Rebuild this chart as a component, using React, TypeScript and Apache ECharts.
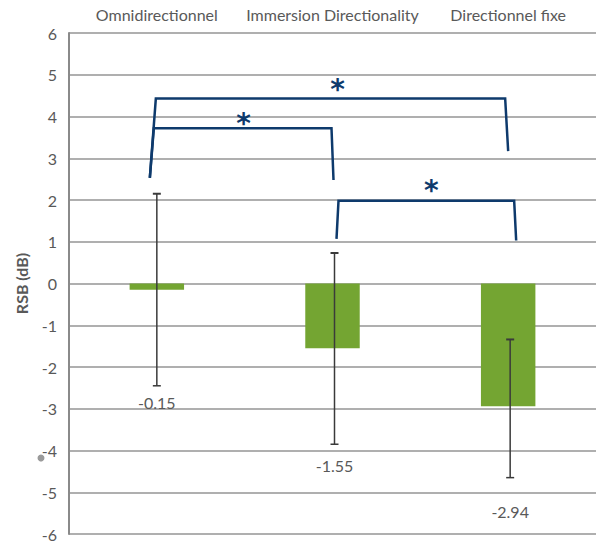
import React, { useEffect, useRef } from "react";
import * as echarts from "echarts";

const categories = ["Omnidirectionnel", "Immersion Directionality", "Directionnel fixe"];
const means = [-0.15, -1.55, -2.94];
const errLow = [-2.45, -3.85, -4.65];
const errHigh = [2.15, 0.73, -1.34];
const meanLabels = ["-0.15", "-1.55", "-2.94"];

// significance brackets: [fromCategory, toCategory]
const bracketPairs = [
  [0, 2],
  [0, 1],
  [1, 2],
];
const bracketTop = [4.43, 3.72, 1.98];
const bracketLeftEnd = [2.53, 2.53, 1.07];
const bracketRightEnd = [3.17, 2.48, 1.03];
const bracketMark = ["*", "*", "*"];

// style constants (pixel offsets)
const bracketDx = [
  [-7, -1, -3, 0],
  [-7, -3, -1, 1],
  [4, 6, 6, 8],
];
const starDx = [7, 1, 5];
const starDy = [-16, -12, -17];
const labelDy = [17, 21, 34];
const errDx = [0, 2, 2];

const GREY = "#595959";
const NAVY = "#0e3a6c";
const FONT = "Lato, 'Open Sans', sans-serif";

export default function App() {
  const ref = useRef<HTMLDivElement>(null);
  useEffect(() => {
    if (!ref.current) return;
    const chart = echarts.init(ref.current, undefined, { renderer: "svg" });
    const option: any = {
      animation: false,
      textStyle: { fontFamily: FONT },
      grid: { left: 69, right: 2, top: 33, bottom: 5, containLabel: false },
      xAxis: {
        type: "category",
        data: categories,
        position: "top",
        axisLine: { show: false },
        axisTick: { show: false },
        axisLabel: { color: GREY, fontSize: 16, margin: 11, fontFamily: FONT, interval: 0 },
        splitLine: { show: false },
      },
      yAxis: {
        type: "value",
        min: -6,
        max: 6,
        interval: 1,
        name: "RSB (dB)",
        nameLocation: "middle",
        nameGap: 40,
        nameTextStyle: { color: GREY, fontSize: 16, fontWeight: "bold", fontFamily: FONT },
        axisLine: { show: true, lineStyle: { color: "#8a8a8a", width: 2 } },
        axisTick: { show: false },
        axisLabel: { color: GREY, fontSize: 16, margin: 12, fontFamily: FONT },
        splitLine: { show: true, lineStyle: { color: "#959595", width: 1.5 } },
      },
      series: [
        {
          type: "bar",
          data: means,
          barWidth: "31%",
          itemStyle: { color: "#74a532" },
          z: 2,
        },
        {
          type: "custom",
          z: 5,
          data: categories.map((_, i) => [i, errLow[i], errHigh[i]]),
          renderItem: (params: any, api: any) => {
            const i = api.value(0);
            const lo = api.coord([i, api.value(1)]);
            const hi = api.coord([i, api.value(2)]);
            const x = lo[0] + errDx[params.dataIndex];
            const cap = 4;
            const st = { stroke: "#3a3a3a", lineWidth: 1.5 };
            return {
              type: "group",
              children: [
                { type: "line", shape: { x1: x, y1: lo[1], x2: x, y2: hi[1] }, style: st },
                { type: "line", shape: { x1: x - cap, y1: lo[1], x2: x + cap, y2: lo[1] }, style: st },
                { type: "line", shape: { x1: x - cap, y1: hi[1], x2: x + cap, y2: hi[1] }, style: { stroke: "#3a3a3a", lineWidth: 2 } },
                {
                  type: "text",
                  style: {
                    text: meanLabels[params.dataIndex],
                    x: x,
                    y: lo[1] + labelDy[params.dataIndex],
                    textAlign: "center",
                    textVerticalAlign: "middle",
                    fill: GREY,
                    fontSize: 16,
                    fontFamily: FONT,
                  },
                },
              ],
            };
          },
        },
        {
          type: "custom",
          z: 6,
          data: bracketPairs.map((p, k) => [p[0], p[1], bracketTop[k], bracketLeftEnd[k], bracketRightEnd[k]]),
          renderItem: (params: any, api: any) => {
            const k = params.dataIndex;
            const a = api.value(0);
            const b = api.value(1);
            const top = api.coord([a, api.value(2)])[1];
            const lb = api.coord([a, api.value(3)]);
            const rb = api.coord([b, api.value(4)]);
            const d = bracketDx[k];
            const pts = [
              [lb[0] + d[0], lb[1]],
              [lb[0] + d[1], top],
              [rb[0] + d[2], top],
              [rb[0] + d[3], rb[1]],
            ];
            const mid = (lb[0] + d[1] + rb[0] + d[2]) / 2 + starDx[k];
            return {
              type: "group",
              children: [
                {
                  type: "polyline",
                  shape: { points: pts },
                  style: { stroke: NAVY, lineWidth: 2.5, fill: "none" },
                },
                {
                  type: "text",
                  style: {
                    text: bracketMark[k],
                    x: mid,
                    y: top + starDy[k] + 21,
                    textAlign: "center",
                    textVerticalAlign: "bottom",
                    fill: NAVY,
                    fontSize: 28,
                    fontWeight: "bold",
                    fontFamily: "'DejaVu Sans', sans-serif",
                  },
                },
              ],
            };
          },
        },
      ],
      graphic: [
        { type: "circle", shape: { cx: 41, cy: 458, r: 3.5 }, style: { fill: "#9a9a9a" } },
      ],
    };
    chart.setOption(option);
    return () => chart.dispose();
  }, []);
  return <div ref={ref} style={{ width: 598, height: 542, position: "absolute", left: 0, top: 0, background: "#fff" }} />;
}
